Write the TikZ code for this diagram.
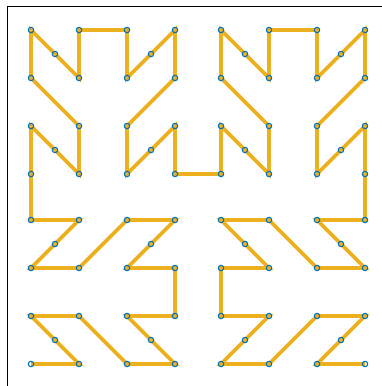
\documentclass[tikz,border=0pt]{standalone}
\usetikzlibrary{calc}
\definecolor{curvecol}{HTML}{EDB120}
\definecolor{markcol}{HTML}{0072BD}
\pgfdeclarelayer{bg}
\pgfsetlayers{bg,main}
\tikzset{
  mk/.style={circle,draw=markcol,line width=1.1pt,minimum size=5.4pt,inner sep=0pt},
  curve/.style={draw=curvecol,line width=3.8pt,line join=miter},
  frame/.style={draw=black,line width=1.3pt}
}
\begin{document}
\begin{tikzpicture}[x=1pt,y=-1pt]
\useasboundingbox (0,0) rectangle (382,386);
\draw[frame] (7.5,386) -- (7.5,6.8) -- (382,6.8);
\foreach \c/\x in {0/31,1/79,2/127,3/175,4/221,5/269,6/317,7/365}{
  \foreach \r/\y in {0/30,1/78,2/126,3/174,4/220,5/268,6/316,7/364}{
    \node[mk] (g\c\r) at (\x,\y) {};
  }
}
\foreach \a/\b/\n in {17/06/m1,37/26/m2,25/34/m3,05/14/m4,02/13/m5,00/11/m6,21/30/m7,23/32/m8,42/53/m9,40/51/m10,61/70/m11,63/72/m12,64/75/m13,44/55/m14,56/47/m15,76/67/m16}{
  \node[mk] (\n) at ($(g\a.center)!0.5!(g\b.center)$) {};
}
\begin{pgfonlayer}{bg}
\draw[curve] (g07.center) -- (g17.center) -- (m1.center) -- (g06.center) -- (g16.center) -- (g27.center) -- (g37.center) -- (m2.center) -- (g26.center) -- (g36.center) -- (g35.center) -- (g25.center) -- (m3.center) -- (g34.center) -- (g24.center) -- (g15.center) -- (g05.center) -- (m4.center) -- (g14.center) -- (g04.center) -- (g03.center) -- (g02.center) -- (m5.center) -- (g13.center) -- (g12.center) -- (g01.center) -- (g00.center) -- (m6.center) -- (g11.center) -- (g10.center) -- (g20.center) -- (g21.center) -- (m7.center) -- (g30.center) -- (g31.center) -- (g22.center) -- (g23.center) -- (m8.center) -- (g32.center) -- (g33.center) -- (g43.center) -- (g42.center) -- (m9.center) -- (g53.center) -- (g52.center) -- (g41.center) -- (g40.center) -- (m10.center) -- (g51.center) -- (g50.center) -- (g60.center) -- (g61.center) -- (m11.center) -- (g70.center) -- (g71.center) -- (g62.center) -- (g63.center) -- (m12.center) -- (g72.center) -- (g73.center) -- (g74.center) -- (g64.center) -- (m13.center) -- (g75.center) -- (g65.center) -- (g54.center) -- (g44.center) -- (m14.center) -- (g55.center) -- (g45.center) -- (g46.center) -- (g56.center) -- (m15.center) -- (g47.center) -- (g57.center) -- (g66.center) -- (g76.center) -- (m16.center) -- (g67.center) -- (g77.center);
\end{pgfonlayer}
\end{tikzpicture}
\end{document}
